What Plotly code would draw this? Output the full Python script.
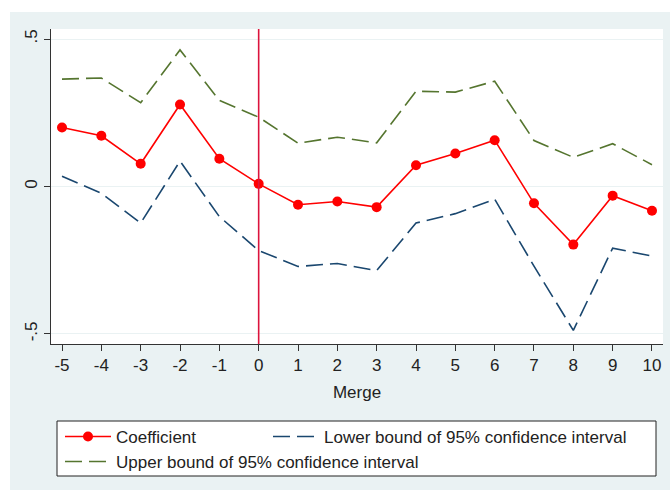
import plotly.graph_objects as go

periods = list(range(-5, 11))
period_labels = ["-5", "-4", "-3", "-2", "-1", "0", "1", "2", "3", "4", "5", "6", "7", "8", "9", "10"]
coef = [0.200, 0.172, 0.077, 0.278, 0.094, 0.009, -0.062, -0.051, -0.070,
        0.072, 0.112, 0.157, -0.057, -0.197, -0.031, -0.082]
lower = [0.035, -0.023, -0.124, 0.086, -0.102, -0.217, -0.271, -0.261, -0.285,
         -0.124, -0.092, -0.043, -0.270, -0.488, -0.209, -0.236]
upper = [0.364, 0.368, 0.284, 0.463, 0.292, 0.235, 0.147, 0.167, 0.148,
         0.323, 0.320, 0.357, 0.156, 0.099, 0.145, 0.074]
ytick_vals = [-0.5, 0, 0.5]
ytick_text = ["-.5", "0", ".5"]

W, H = 670, 490
L, R, T, B = 51, 7, 29, 146
pw, ph = W - L - R, H - T - B

def px(x):
    return (x - L) / pw

def py(y):
    return (H - B - y) / ph

font = dict(family="Liberation Sans, Arial, sans-serif", size=17, color="#222222")

fig = go.Figure()
fig.add_trace(go.Scatter(x=periods, y=coef, mode="lines+markers", name="Coefficient",
                         line=dict(color="#FF0000", width=1.6),
                         marker=dict(color="#FF0000", size=10), legend="legend"))
fig.add_trace(go.Scatter(x=periods, y=lower, mode="lines",
                         name="Lower bound of 95% confidence interval",
                         line=dict(color="#1A476F", width=1.6, dash="17px,7px"),
                         legend="legend2"))
fig.add_trace(go.Scatter(x=periods, y=upper, mode="lines",
                         name="Upper bound of 95% confidence interval",
                         line=dict(color="#55752F", width=1.6, dash="17px,7px"),
                         legend="legend3"))

shapes = [
    dict(type="rect", xref="paper", yref="paper", x0=px(0), x1=px(W), y0=py(12), y1=py(0),
         fillcolor="white", line=dict(width=0), layer="below"),
    dict(type="rect", xref="paper", yref="paper", x0=px(0), x1=px(10), y0=py(H), y1=py(0),
         fillcolor="white", line=dict(width=0), layer="below"),
    dict(type="rect", xref="paper", yref="paper", x0=px(57), x1=px(656), y0=py(476), y1=py(421),
         fillcolor="white", line=dict(color="#222222", width=1), layer="below"),
    dict(type="line", xref="x", yref="paper", x0=0, x1=0, y0=0, y1=1,
         line=dict(color="#DC143C", width=1.6)),
]

def leg(x, y):
    return dict(x=px(x), y=py(y), xanchor="left", yanchor="top",
                bgcolor="rgba(0,0,0,0)", borderwidth=0, itemwidth=46, font=font)

fig.update_layout(
    width=W, height=H,
    margin=dict(l=L, r=R, t=T, b=B, pad=0),
    paper_bgcolor="#EAF2F3", plot_bgcolor="white",
    font=font,
    shapes=shapes,
    showlegend=True,
    legend=leg(60, 419),
    legend2=leg(268, 419),
    legend3=leg(60, 444),
    xaxis=dict(range=[-5.28, 10.28], tickvals=periods, ticktext=period_labels,
               ticks="outside", ticklen=6,
               tickcolor="#333333", showline=True, linecolor="#333333", linewidth=1,
               showgrid=False, zeroline=False, tickfont=font,
               title=dict(text="Merge", font=font, standoff=11)),
    yaxis=dict(range=[-0.534, 0.534], tickvals=ytick_vals, ticktext=ytick_text,
               tickangle=-90, ticks="outside", ticklen=6, tickcolor="#333333",
               showline=True, linecolor="#333333", linewidth=1,
               showgrid=True, gridcolor="#EAF2F3", gridwidth=1, zeroline=False,
               tickfont=font),
)

fig.write_html("out.html", config={"displayModeBar": False},
               post_script="document.body.style.margin='0';document.body.style.overflow='hidden';")
